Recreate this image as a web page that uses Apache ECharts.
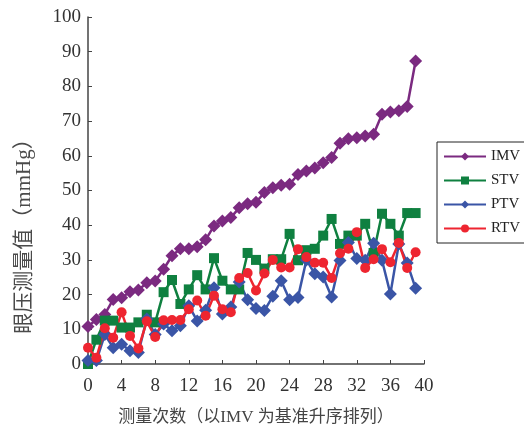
<!DOCTYPE html>
<html>
<head>
<meta charset="utf-8">
<script src="https://cdn.jsdelivr.net/npm/echarts@6/dist/echarts.min.js"></script>
<style>html,body{margin:0;padding:0;background:#fff;}#c{width:524px;height:424px;}</style>
</head>
<body>
<div id="c"></div>
<script>
var measureIndex = [0,1,2,3,4,5,6,7,8,9,10,11,12,13,14,15,16,17,18,19,20,21,22,23,24,25,26,27,28,29,30,31,32,33,34,35,36,37,38,39];
var IMV = [10.8,12.8,14.3,18.6,19.1,20.8,21.3,23.4,23.9,27.3,31.2,33.2,33.2,33.8,35.8,39.8,41.2,42.2,45.0,46.2,46.6,49.4,50.8,51.5,51.8,54.6,55.6,56.5,58.0,59.5,63.6,64.9,65.2,65.7,66.2,72.0,72.6,73.0,74.2,87.3];
var STV = [0,7,12.5,12.5,10.5,10.5,12,14.2,12,20.7,24.2,17.3,21.5,25.6,21.5,30.5,24,21.5,21.5,32,30,27.5,30.2,30.2,37.5,29.9,32.8,33.2,37,41.8,34.6,37,37,40.4,32,43.3,40.4,37,43.5,43.5];
var PTV = [1,1,8.5,4.7,5.7,3.8,3.3,13,8.5,11.5,9.6,11,16.8,12.4,15.5,22,14.4,16.4,23.6,18.5,16,15.4,19.5,24,18.5,19.2,30,26,25.1,19.3,29.8,35,30.4,29.9,34.8,29.9,20.2,34.6,29.1,21.8];
var RTV = [4.7,1.8,10.3,7.6,14.9,8.1,4.5,12.3,7.8,12.6,12.7,12.7,15.8,18.3,13.9,19.7,15.8,14.9,24.8,26.2,21.2,26.1,30,27.8,27.8,33.1,30.8,29.2,29.2,24.8,31.9,33.2,38,27.7,30.2,33.1,29.3,34.9,27.7,32.2];
var seriesNames = ['IMV','STV','PTV','RTV'];
var xTicks = [0,4,8,12,16,20,24,28,32,36,40];
var yTicks = [0,10,20,30,40,50,60,70,80,90,100];
var xTitle = '测量次数（以IMV 为基准升序排列）';
var yTitle = '眼压测量值（mmHg）';

function pairs(vals){ return measureIndex.map(function(x,i){ return [x, vals[i]]; }); }

var chart = echarts.init(document.getElementById('c'), null, {renderer:'canvas'});
var serif = "'Liberation Serif','DejaVu Serif',serif";
var cjk = "'Liberation Serif','Noto Sans CJK SC',serif";
function mk(name, vals, color, symbol, size){
  return {
    name: name, type: 'line', data: pairs(vals),
    symbol: symbol, symbolSize: size, showSymbol: true,
    lineStyle: {color: color, width: 2.5},
    itemStyle: {color: color},
    animation: false
  };
}
chart.setOption({
  animation: false,
  backgroundColor: '#fff',
  grid: {left: 88, right: 100, top: 17, bottom: 60, containLabel: false, outerBoundsMode: 'none'},
  graphic: [{
    type: 'text', x: 24, y: 231, rotation: Math.PI / 2,
    style: {text: yTitle, font: "21px 'Liberation Serif','Noto Sans CJK SC',serif",
      fill: '#4a4a4a', textAlign: 'center', textVerticalAlign: 'middle'}
  }],
  legend: {
    orient: 'vertical', left: 437, top: 142,
    data: seriesNames,
    itemWidth: 42, itemHeight: 10, itemGap: 9,
    padding: [7, 6, 7, 6],
    borderColor: '#222', borderWidth: 1,
    textStyle: {fontFamily: serif, fontSize: 15, color: '#222'}
  },
  xAxis: {
    type: 'value', min: 0, max: 40, interval: 4,
    name: xTitle, nameLocation: 'middle', nameGap: 45,
    nameTextStyle: {fontFamily: cjk, fontSize: 17, color: '#444'},
    axisLine: {show: true, lineStyle: {color: '#444', width: 1.5}},
    axisTick: {show: true, inside: true, length: 4, lineStyle: {color: '#444'}},
    axisLabel: {fontFamily: serif, fontSize: 19, color: '#333', margin: 13,
      formatter: function(v){ return xTicks.indexOf(v) >= 0 ? String(v) : ''; }},
    splitLine: {show: false}
  },
  yAxis: {
    type: 'value', min: 0, max: 100, interval: 10,
    axisLine: {show: true, lineStyle: {color: '#444', width: 1.5}},
    axisTick: {show: true, inside: true, length: 4, lineStyle: {color: '#444'}},
    axisLabel: {fontFamily: serif, fontSize: 19, color: '#333', margin: 7,
      formatter: function(v){ return yTicks.indexOf(v) >= 0 ? String(v) : ''; }},
    splitLine: {show: false}
  },
  series: [
    mk('IMV', IMV, '#7B2A80', 'diamond', 13),
    mk('STV', STV, '#0F8040', 'rect', 10),
    mk('PTV', PTV, '#3A55A6', 'diamond', 13),
    mk('RTV', RTV, '#EE2530', 'circle', 10)
  ]
});
</script>
</body>
</html>
